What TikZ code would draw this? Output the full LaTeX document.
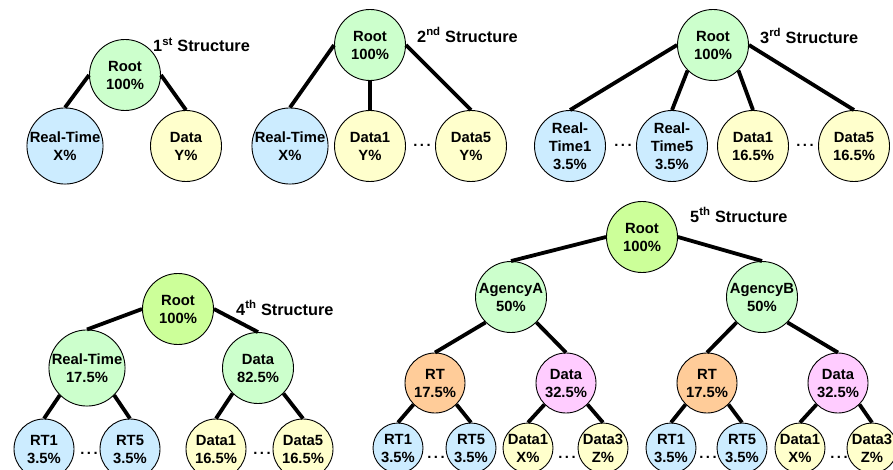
\documentclass[tikz,border=0pt]{standalone}
\usepackage{fontspec}
\setmainfont{Liberation Sans}
\definecolor{cgreen}{HTML}{CCFFCC}
\definecolor{cgreenb}{HTML}{CCFF99}
\definecolor{cblue}{HTML}{CCECFF}
\definecolor{cyellow}{HTML}{FFFFCC}
\definecolor{corange}{HTML}{FFCC99}
\definecolor{cpink}{HTML}{FFCCFF}
\tikzset{
  nd/.style={circle,draw=black,line width=0.9pt,inner sep=0pt,align=center,
    font=\bfseries\fontsize{14.8}{18}\selectfont},
  big/.style={nd,minimum size=71pt},
  mid/.style={nd,minimum size=60pt},
  sml/.style={nd,minimum size=50pt},
  gr/.style={fill=cgreen},
  grb/.style={fill=cgreenb},
  bl/.style={fill=cblue},
  ye/.style={fill=cyellow},
  orr/.style={fill=corange},
  pk/.style={fill=cpink},
  link/.style={line width=3.8pt},
  lbl/.style={anchor=west,inner sep=0pt,font=\bfseries\fontsize{16.3}{19}\selectfont},
  dotsn/.style={inner sep=0pt,font=\bfseries\fontsize{14.8}{18}\selectfont}
}
\begin{document}
\begin{tikzpicture}[x=1pt,y=-1pt]
\useasboundingbox (0,0) rectangle (893,470);
\fill[white] (0,0) rectangle (893,470);
\clip (0,0) rectangle (893,470);

% ---------- 1st structure
\node[big,gr] (r1) at (125,75) {Root\\100\%};
\node[big,bl] (r1a) at (65,146) {Real-Time\\X\%};
\node[big,ye] (r1b) at (186,146) {Data\\Y\%};
\node[lbl] (l1) at (153,45) {1\textsuperscript{st} Structure};
\draw[link] (r1.west) -- (r1a.north);
\draw[link] (r1.east) -- (r1b.north);

% ---------- 2nd structure
\node[big,gr] (r2) at (370,45) {Root\\100\%};
\node[big,bl] (r2a) at (290,146) {Real-Time\\X\%};
\node[big,ye] (r2b) at (370,146) {Data1\\Y\%};
\node[big,ye] (r2c) at (471,146) {Data5\\Y\%};
\node[dotsn] (dt2) at (422,145) {.\,.\,.};
\node[lbl] (l2) at (417,35) {2\textsuperscript{nd} Structure};
\draw[link] (r2.west) -- (r2a.north);
\draw[link] (r2.south) -- (r2b.north);
\draw[link] (r2.east) -- (r2c.north);

% ---------- 3rd structure
\node[big,gr] (r3) at (713,45) {Root\\100\%};
\node[big,bl] (r3a) at (570,146) {Real-\\Time1\\3.5\%};
\node[big,bl] (r3b) at (672,146) {Real-\\Time5\\3.5\%};
\node[big,ye] (r3c) at (753,146) {Data1\\16.5\%};
\node[big,ye] (r3d) at (854,146) {Data5\\16.5\%};
\node[dotsn] (dt3a) at (623,145) {.\,.\,.};
\node[dotsn] (dt3b) at (805,145) {.\,.\,.};
\node[lbl] (l3) at (760,36) {3\textsuperscript{rd} Structure};
\draw[link] (r3.west) -- (r3a.north);
\draw[link] (r3.south west) -- (r3b.north);
\draw[link] (r3.south east) -- (r3c.north);
\draw[link] (r3.east) -- (r3d.north);

% ---------- 4th structure
\node[big,grb] (r4) at (178,309) {Root\\100\%};
\node[big,gr] (r4a) at (87,368) {Real-Time\\17.5\%};
\node[big,gr] (r4b) at (258,368) {Data\\82.5\%};
\node[mid,bl] (r4c) at (44,449) {RT1\\3.5\%};
\node[mid,bl] (r4d) at (130,449) {RT5\\3.5\%};
\node[mid,ye] (r4e) at (216,449) {Data1\\16.5\%};
\node[mid,ye] (r4f) at (303,449) {Data5\\16.5\%};
\node[dotsn] (dt4a) at (89,453) {.\,.\,.};
\node[dotsn] (dt4b) at (262,453) {.\,.\,.};
\node[lbl] (l4) at (236,308) {4\textsuperscript{th} Structure};
\draw[link] (r4.west) -- (r4a.north);
\draw[link] (r4.east) -- (r4b.north);
\draw[link] (r4a.south west) -- (r4c.north);
\draw[link] (r4a.south east) -- (r4d.north);
\draw[link] (r4b.south west) -- (r4e.north);
\draw[link] (r4b.south east) -- (r4f.north);

% ---------- 5th structure
\node[big,grb] (r5) at (642,237) {Root\\100\%};
\node[big,gr] (a5) at (511,297) {AgencyA\\50\%};
\node[big,gr] (b5) at (762,297) {AgencyB\\50\%};
\node[mid,orr] (a5r) at (435,383) {RT\\17.5\%};
\node[mid,pk] (a5d) at (566,383) {Data\\32.5\%};
\node[mid,orr] (b5r) at (707,383) {RT\\17.5\%};
\node[mid,pk] (b5d) at (838,383) {Data\\32.5\%};
\node[sml,bl] (a5r1) at (398,448) {RT1\\3.5\%};
\node[sml,bl] (a5r5) at (471,448) {RT5\\3.5\%};
\node[sml,ye] (a5d1) at (528,448) {Data1\\X\%};
\node[sml,ye] (a5d3) at (603,448) {Data3\\Z\%};
\node[sml,bl] (b5r1) at (671,448) {RT1\\3.5\%};
\node[sml,bl] (b5r5) at (742,448) {RT5\\3.5\%};
\node[sml,ye] (b5d1) at (800,448) {Data1\\X\%};
\node[sml,ye] (b5d3) at (872,448) {Data3\\Z\%};
\node[dotsn] (dt5a) at (436,457) {.\,.\,.};
\node[dotsn] (dt5b) at (567,457) {.\,.\,.};
\node[dotsn] (dt5c) at (708,457) {.\,.\,.};
\node[dotsn] (dt5d) at (839,457) {.\,.\,.};
\node[lbl] (l5) at (690,215) {5\textsuperscript{th} Structure};
\draw[link] (r5.west) -- (a5.north);
\draw[link] (r5.east) -- (b5.north);
\draw[link] (a5.south west) -- (a5r.north);
\draw[link] (a5.south east) -- (a5d.north);
\draw[link] (b5.south west) -- (b5r.north);
\draw[link] (b5.south east) -- (b5d.north);
\draw[link] (a5r.south west) -- (a5r1.north);
\draw[link] (a5r.south east) -- (a5r5.north);
\draw[link] (a5d.south west) -- (a5d1.north);
\draw[link] (a5d.south east) -- (a5d3.north);
\draw[link] (b5r.south west) -- (b5r1.north);
\draw[link] (b5r.south east) -- (b5r5.north);
\draw[link] (b5d.south west) -- (b5d1.north);
\draw[link] (b5d.south east) -- (b5d3.north);
\end{tikzpicture}
\end{document}
